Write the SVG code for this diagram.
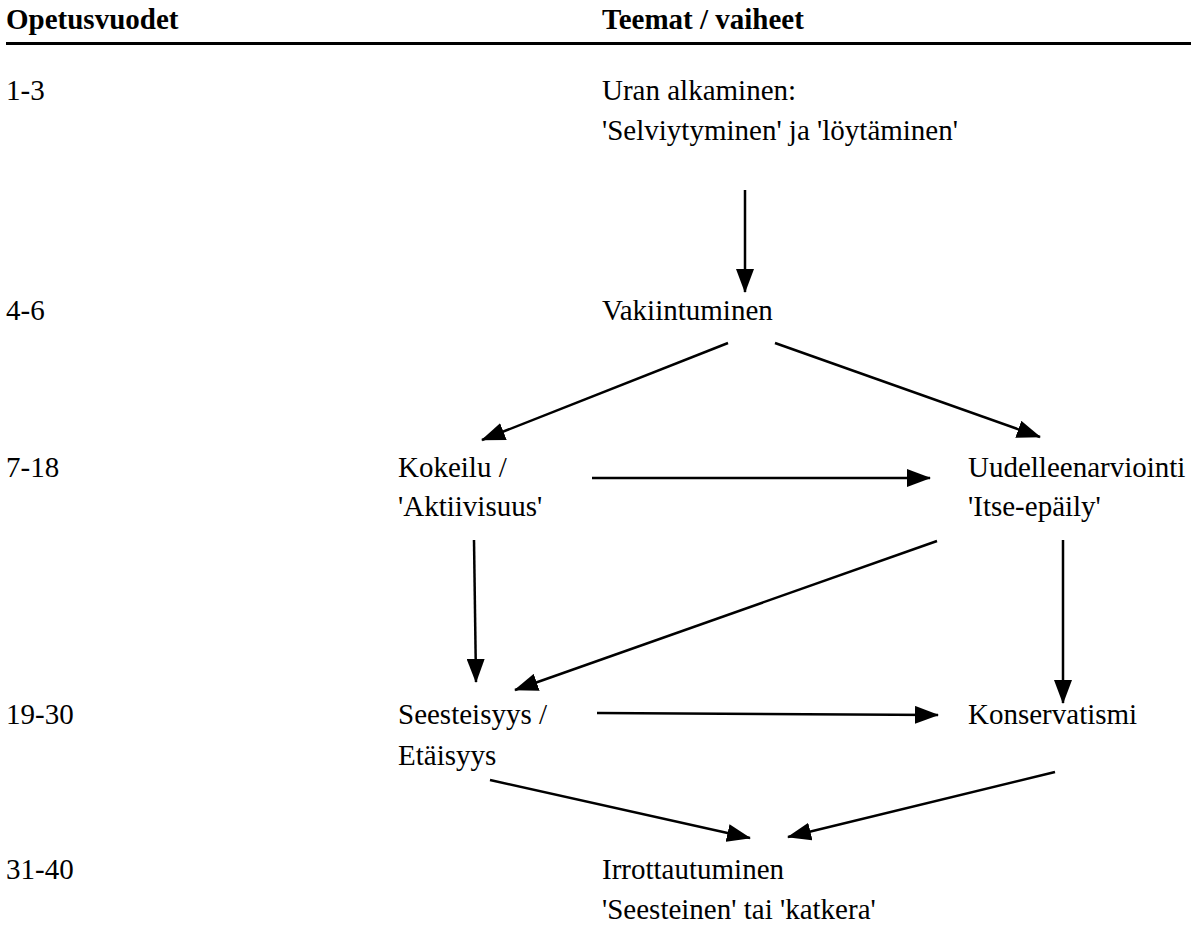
<svg xmlns="http://www.w3.org/2000/svg" width="1191" height="933" viewBox="0 0 1191 933">
  <style>
    .conn line { stroke: #000; stroke-width: 2.5; marker-end: url(#arrow); }
  </style>
  <defs>
    <marker id="arrow" markerUnits="userSpaceOnUse" markerWidth="24" markerHeight="18" viewBox="0 0 24 18" refX="23" refY="9" orient="auto">
      <path d="M0,0 L24,9 L0,18 Z" fill="#000"/>
    </marker>
  </defs>
  <rect width="1191" height="933" fill="#fff"/>

  <g font-family="'Liberation Serif', 'Times New Roman', Times, 'DejaVu Serif', serif" font-size="29" fill="#000">
    <!-- column headers -->
    <g id="header">
      <text font-weight="bold" x="6" y="29">Opetusvuodet</text>
      <text font-weight="bold" x="602" y="29">Teemat / vaiheet</text>
      <rect x="6" y="42" width="1185" height="3" fill="#000"/>
    </g>

    <!-- teaching years -->
    <g id="years">
      <text x="6" y="100">1-3</text>
      <text x="6" y="320">4-6</text>
      <text x="6" y="477">7-18</text>
      <text x="6" y="724">19-30</text>
      <text x="6" y="879">31-40</text>
    </g>

    <!-- phases -->
    <g id="n-alku">
      <text x="602" y="100">Uran alkaminen:</text>
      <text x="602" y="140">'Selviytyminen' ja 'löytäminen'</text>
    </g>
    <g id="n-vakiintuminen">
      <text x="602" y="320">Vakiintuminen</text>
    </g>
    <g id="n-kokeilu">
      <text x="398" y="477">Kokeilu /</text>
      <text x="398" y="516">'Aktiivisuus'</text>
    </g>
    <g id="n-uudelleenarviointi">
      <text x="968" y="477">Uudelleenarviointi</text>
      <text x="968" y="516">'Itse-epäily'</text>
    </g>
    <g id="n-seesteisyys">
      <text x="398" y="724">Seesteisyys /</text>
      <text x="398" y="765">Etäisyys</text>
    </g>
    <g id="n-konservatismi">
      <text x="968" y="724">Konservatismi</text>
    </g>
    <g id="n-irrottautuminen">
      <text x="602" y="879">Irrottautuminen</text>
      <text x="602" y="919">'Seesteinen' tai 'katkera'</text>
    </g>
  </g>

  <!-- connectors -->
  <g id="connectors" class="conn">
    <line x1="745" y1="190" x2="745" y2="292"/>
    <line x1="728" y1="343" x2="482" y2="440"/>
    <line x1="775" y1="343" x2="1040" y2="437"/>
    <line x1="592" y1="478" x2="930" y2="478"/>
    <line x1="474" y1="540" x2="476" y2="682"/>
    <line x1="937" y1="541" x2="515" y2="690"/>
    <line x1="1063" y1="540" x2="1063" y2="703"/>
    <line x1="597" y1="713" x2="938" y2="715"/>
    <line x1="490" y1="780" x2="750" y2="838"/>
    <line x1="1055" y1="772" x2="788" y2="837"/>
  </g>
</svg>
